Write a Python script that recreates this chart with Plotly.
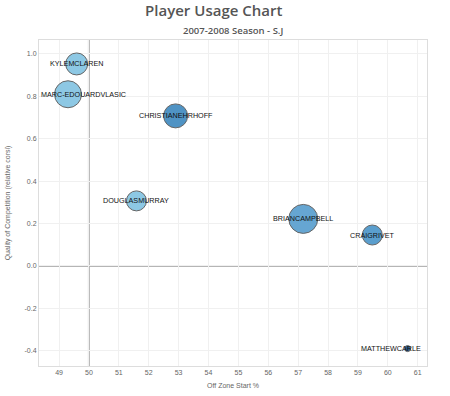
import plotly.graph_objects as go

players = ["KYLEMCLAREN", "MARC-EDOUARDVLASIC", "CHRISTIANEHRHOFF", "DOUGLASMURRAY",
           "BRIANCAMPBELL", "CRAIGRIVET", "MATTHEWCARLE"]
off_zone_start = [49.59, 49.30, 52.90, 51.59, 57.17, 59.48, 60.66]
qual_comp = [0.953, 0.81, 0.708, 0.307, 0.222, 0.146, -0.39]
toi_size = [22, 27, 24, 20, 29, 20, 6]
colors = ["#8dc8e4", "#8dc8e4", "#4f93c4", "#8dc8e4", "#66a6d2", "#5a9ecd", "#2d5f8f"]

x_ticks = [49, 50, 51, 52, 53, 54, 55, 56, 57, 58, 59, 60, 61]
y_ticks = [-0.4, -0.2, 0.0, 0.2, 0.4, 0.6, 0.8, 1.0]

# labels that would spill out of the plot area are clamped to its edge
clamp = {"MARC-EDOUARDVLASIC": ("left", 0.0), "MATTHEWCARLE": ("right", 0.99)}

fig = go.Figure()
fig.add_trace(go.Scatter(
    x=off_zone_start, y=qual_comp, mode="markers",
    text=players,
    marker=dict(size=toi_size, color=colors, line=dict(color="#666", width=1), opacity=1),
    hoverinfo="x+y+text", showlegend=False, cliponaxis=False,
))

label_font = dict(family="Liberation Sans, Arial", size=7.2, color="#111")
annotations = []
for name, xv, yv in zip(players, off_zone_start, qual_comp):
    if name in clamp:
        anchor, px = clamp[name]
        annotations.append(dict(text=name, xref="paper", yref="y", x=px, y=yv,
                                xanchor=anchor, yanchor="middle", showarrow=False,
                                font=label_font))
    else:
        annotations.append(dict(text=name, xref="x", yref="y", x=xv, y=yv,
                                xanchor="center", yanchor="middle", showarrow=False,
                                font=label_font))

annotations.append(dict(text="2007-2008 Season - S.J", xref="paper", yref="paper",
                        x=0.5, y=1.0, yshift=10, showarrow=False, yanchor="middle",
                        font=dict(family="Open Sans", size=9.5, weight=600, color="#555")))

fig.add_shape(type="line", x0=50, x1=50, y0=0, y1=1, xref="x", yref="paper",
              line=dict(color="#b5b5b5", width=2), layer="below")
fig.add_shape(type="line", x0=0, x1=1, y0=0, y1=0, xref="paper", yref="y",
              line=dict(color="#b5b5b5", width=2), layer="below")

fig.update_layout(
    width=450, height=396,
    margin=dict(l=39, r=23, t=40, b=30, autoexpand=False),
    paper_bgcolor="white", plot_bgcolor="white",
    title=dict(text="Player Usage Chart", x=0.475, xanchor="center", y=0.972, yanchor="middle",
               automargin=False,
               font=dict(family="Open Sans", size=15, weight=600, color="#555")),
    annotations=annotations,
    xaxis=dict(range=[48.33, 61.31], tickvals=x_ticks, ticktext=[str(v) for v in x_ticks],
               automargin=False,
               showgrid=True, gridcolor="#f0f0f0", zeroline=False,
               showline=True, linecolor="#ddd", mirror=True,
               tickfont=dict(family="Liberation Sans, Arial", size=7, color="#666"),
               title=dict(text="Off Zone Start %", standoff=7,
                          font=dict(family="Liberation Sans, Arial", size=7, color="#666"))),
    yaxis=dict(range=[-0.472, 1.066], tickvals=y_ticks, ticktext=[f"{v:.1f}" for v in y_ticks],
               automargin=False,
               showgrid=True, gridcolor="#f0f0f0", zeroline=False,
               showline=True, linecolor="#ddd", mirror=True,
               tickfont=dict(family="Liberation Sans, Arial", size=7, color="#666"),
               title=dict(text="Quality of Competition (relative corsi)", standoff=13,
                          font=dict(family="Liberation Sans, Arial", size=7, color="#666"))),
)

fig.write_html("out.html", config={"displayModeBar": False},
               post_script="document.body.style.margin='0';")
